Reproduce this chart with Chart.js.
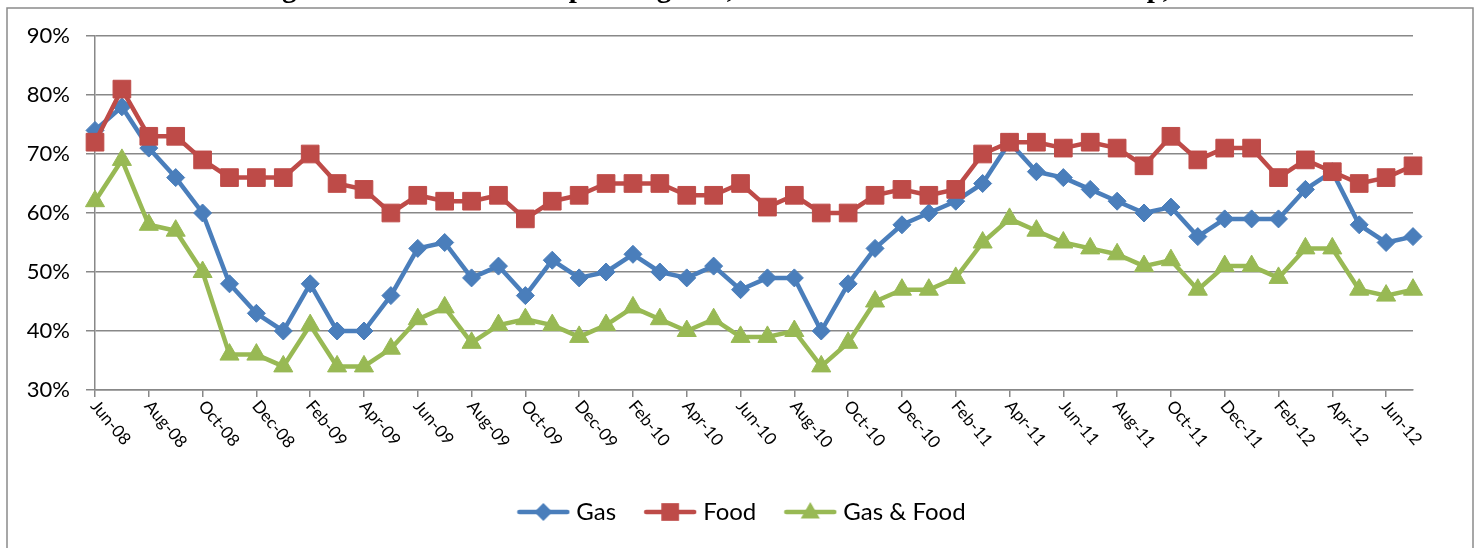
<!DOCTYPE html>
<html><head><meta charset="utf-8">
<script src="https://cdn.jsdelivr.net/npm/chart.js@4.4.1/dist/chart.umd.min.js"></script>
<style>html,body{margin:0;padding:0;background:#fff;overflow:hidden}#wrap{width:1476px;height:548px;position:relative}</style>
</head><body><div id="wrap"><canvas id="c" width="1476" height="548"></canvas></div>
<script>
const chartTitle = 'Percentage of New Members Expressing Gas, Food and Gas and Food Hardship, 2008-2012';
const months = ['Jun-08','Jul-08','Aug-08','Sep-08','Oct-08','Nov-08','Dec-08',
  'Jan-09','Feb-09','Mar-09','Apr-09','May-09','Jun-09','Jul-09','Aug-09','Sep-09','Oct-09','Nov-09','Dec-09',
  'Jan-10','Feb-10','Mar-10','Apr-10','May-10','Jun-10','Jul-10','Aug-10','Sep-10','Oct-10','Nov-10','Dec-10',
  'Jan-11','Feb-11','Mar-11','Apr-11','May-11','Jun-11','Jul-11','Aug-11','Sep-11','Oct-11','Nov-11','Dec-11',
  'Jan-12','Feb-12','Mar-12','Apr-12','May-12','Jun-12','Jul-12'];
const gas = [74,78,71,66,60,48,43,40,48,40,40,46,54,55,49,51,46,52,49,50,53,50,49,51,47,49,49,40,48,54,58,60,62,65,72,67,66,64,62,60,61,56,59,59,59,64,67,58,55,56];
const food = [72,81,73,73,69,66,66,66,70,65,64,60,63,62,62,63,59,62,63,65,65,65,63,63,65,61,63,60,60,63,64,63,64,70,72,72,71,72,71,68,73,69,71,71,66,69,67,65,66,68];
const gasFood = [62,69,58,57,50,36,36,34,41,34,34,37,42,44,38,41,42,41,39,41,44,42,40,42,39,39,40,34,38,45,47,47,49,55,59,57,55,54,53,51,52,47,51,51,49,54,54,47,46,47];
const seriesNames = ['Gas','Food','Gas & Food'];
const yMin = 30, yMax = 90, yStep = 10;

const colors = ['#4A7EBB','#BE4B48','#98B954'];
const styles = ['rectRot','rect','triangle'];
const radii = [9,12.5,11];
const GRID = '#888888';

function drawMarker(ctx, style, x, y, r, color){
  ctx.fillStyle = color; ctx.beginPath();
  if(style==='rectRot'){ctx.moveTo(x,y-r);ctx.lineTo(x+r,y);ctx.lineTo(x,y+r);ctx.lineTo(x-r,y);}
  else if(style==='rect'){const s=r*Math.SQRT1_2;ctx.rect(x-s,y-s,2*s,2*s);}
  else {ctx.moveTo(x,y-r);ctx.lineTo(x+r*Math.sin(Math.PI*2/3),y+r*0.5);ctx.lineTo(x-r*Math.sin(Math.PI*2/3),y+r*0.5);}
  ctx.closePath(); ctx.fill();
}
function legendImage(i){
  const cv = document.createElement('canvas'); cv.width=54; cv.height=24;
  const g = cv.getContext('2d');
  g.strokeStyle = colors[i]; g.lineWidth = 4.5; g.lineCap='round';
  g.beginPath(); g.moveTo(3,12); g.lineTo(51,12); g.stroke();
  drawMarker(g, styles[i], 27, i===2?13:12, radii[i], colors[i]);
  return cv;
}
const legendImgs = [0,1,2].map(legendImage);

const bgPlugin = {id:'bg', beforeDraw(chart){const c=chart.ctx;c.save();c.fillStyle='#fff';c.fillRect(0,0,chart.width,chart.height);
  c.strokeStyle='#8a8a8a';c.lineWidth=1.5;c.strokeRect(7,8,1466,600);c.restore();}};
const titlePlugin = {id:'ttl', afterDraw(chart){const c=chart.ctx;c.save();c.font='bold 29px "Liberation Serif"';c.fillStyle='#000';
  c.textAlign='center';c.textBaseline='alphabetic';c.fillText(chartTitle,738,-3);c.restore();}};
const xLabelPlugin = {id:'xl', afterDraw(chart){const sc=chart.scales.x;const c=chart.ctx;c.save();c.font='17px Lato';c.fillStyle='#000';
  c.textAlign='left';c.textBaseline='middle';
  sc.ticks.forEach((t,i)=>{ if(i%2!==0) return; const x=sc.getPixelForTick(i);
    c.save(); c.translate(x-1,403); c.rotate(50*Math.PI/180); c.fillText(months[t.value],0,0); c.restore();});
  c.restore();}};

const ds = [gas, food, gasFood].map((d,i)=>({
  label: seriesNames[i], data: d, borderColor: colors[i], backgroundColor: colors[i],
  borderWidth: 4.5, tension: 0, borderJoinStyle:'round', borderCapStyle:'round',
  pointStyle: styles[i], pointRadius: radii[i], pointBorderWidth: 1, pointBorderColor: colors[i], pointBackgroundColor: colors[i],
  order: 3-i
}));

new Chart(document.getElementById('c'), {
  type:'line',
  data:{labels: months, datasets: ds},
  options:{
    responsive:false, animation:false, devicePixelRatio:1,
    layout:{padding:{top:36,left:12,right:0,bottom:14}},
    plugins:{
      tooltip:{enabled:false},
      legend:{position:'bottom', labels:{
        usePointStyle:true, pointStyleWidth:42, padding:33, color:'#000',
        font:{family:'Lato', size:24},
        generateLabels(chart){ return seriesNames.map((n,i)=>({text:n, pointStyle:legendImgs[i], fillStyle:colors[i], strokeStyle:colors[i], lineWidth:0, hidden:false, datasetIndex:i, fontColor:'#000'})); }
      }}
    },
    scales:{
      x:{ offset:false, afterFit(s){s.height=77;},
        grid:{drawOnChartArea:false, drawTicks:true, tickLength:7, lineWidth:1.5,
          color:(c)=> (c.index%2===0 ? GRID : 'rgba(0,0,0,0)')},
        border:{color:GRID, width:1.5},
        ticks:{autoSkip:false, maxRotation:0, minRotation:0, color:'rgba(0,0,0,0)', font:{size:10}}
      },
      y:{ min:yMin, max:yMax, afterFit(s){s.width=83;},
        grid:{color:GRID, lineWidth:1.5, tickLength:9},
        border:{color:GRID, width:1.5},
        ticks:{stepSize:yStep, padding:16, color:'#000', font:{family:'Lato', size:22}, callback:(v)=>v+'%'}
      },
      yR:{ position:'right', display:true, afterFit(s){s.width=63;},
        grid:{drawOnChartArea:false, drawTicks:false}, border:{display:false}, ticks:{display:false}}
    }
  },
  plugins:[bgPlugin, titlePlugin, xLabelPlugin]
});
</script></body></html>
